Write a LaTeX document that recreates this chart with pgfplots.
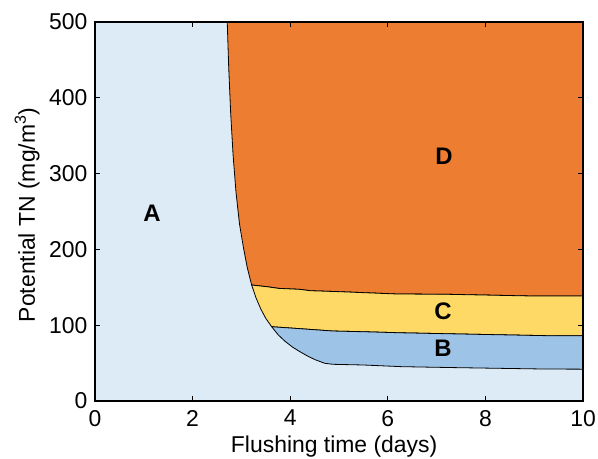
\documentclass[border=0pt]{standalone}
\usepackage{pgfplots}
\pgfplotsset{compat=1.18}
\usepackage{fontspec}
\setmainfont{Liberation Sans}
\definecolor{regA}{RGB}{221,235,247}
\definecolor{regB}{RGB}{157,195,230}
\definecolor{regC}{RGB}{255,217,102}
\definecolor{regD}{RGB}{237,125,49}
\begin{document}
\begin{tikzpicture}
\path[use as bounding box] (0bp,0bp) rectangle (598bp,459bp);
\begin{axis}[
  at={(95bp,58bp)}, anchor=south west,
  scale only axis, width=488bp, height=379bp,
  xmin=0, xmax=10, ymin=0, ymax=500,
  xtick={0,2,4,6,8,10}, ytick={0,100,200,300,400,500},
  axis background/.style={fill=regA},
  axis on top=true,
  axis line style={line width=1.4bp, black},
  tick pos=both, tick align=inside,
  major tick length=5bp,
  every tick/.style={line width=1bp, black},
  /pgf/number format/assume math mode=true,
  ticklabel style={font=\fontsize{23}{23}\selectfont, inner sep=0pt},
  xticklabel style={anchor=north, yshift=-9bp},
  yticklabel style={anchor=east, xshift=-7.5bp},
  xlabel={Flushing time (days)},
  ylabel={Potential TN (mg/m\textsuperscript{3})},
  label style={font=\fontsize{23}{23}\selectfont, inner sep=0pt},
  xlabel style={at={(axis description cs:0.49,-0.137)}, anchor=base},
  ylabel style={at={(axis description cs:-0.123,0.491)}, anchor=base},
]
% Region D
\addplot[fill=regD, draw=black, line width=0.8bp] coordinates {
 (2.71,500) (2.74,440) (2.78,380) (2.83,324) (2.89,275) (2.96,234)
 (3.04,203) (3.12,176) (3.21,153)
 (3.52,150.8) (3.76,148.6) (4.20,147.3) (4.41,145.5) (5.02,144.2) (6.18,141.2)
 (7.27,140.7) (8.98,138.5) (10,138.5) (10,500)
} -- cycle;
% Region C
\addplot[fill=regC, draw=black, line width=0.8bp] coordinates {
 (3.21,153) (3.30,136) (3.40,121) (3.50,109) (3.62,98)
 (4.07,96) (4.88,92.3) (5.50,91.4) (6.25,90) (7.48,88.4) (9.32,86.1) (10,86)
 (10,138.5) (8.98,138.5) (7.27,140.7) (6.18,141.2) (5.02,144.2) (4.41,145.5)
 (4.20,147.3) (3.76,148.6) (3.52,150.8)
} -- cycle;
% Region B
\addplot[fill=regB, draw=black, line width=0.8bp] coordinates {
 (3.62,98) (3.75,87.5) (3.89,79) (4.05,71) (4.20,65) (4.35,59.5) (4.51,54.5)
 (4.71,49.7) (4.88,48.4)
 (5.50,47.5) (6.28,45.3) (7.41,44) (9.19,42.2) (10,42)
 (10,86) (9.32,86.1) (7.48,88.4) (6.25,90) (5.50,91.4) (4.88,92.3) (4.07,96)
} -- cycle;
\node[font=\bfseries\fontsize{24}{24}\selectfont] at (axis cs:1.17,248) {A};
\node[font=\bfseries\fontsize{24}{24}\selectfont] at (axis cs:7.15,323) {D};
\node[font=\bfseries\fontsize{24}{24}\selectfont] at (axis cs:7.13,119) {C};
\node[font=\bfseries\fontsize{24}{24}\selectfont] at (axis cs:7.13,70) {B};
\end{axis}
\end{tikzpicture}
\end{document}
